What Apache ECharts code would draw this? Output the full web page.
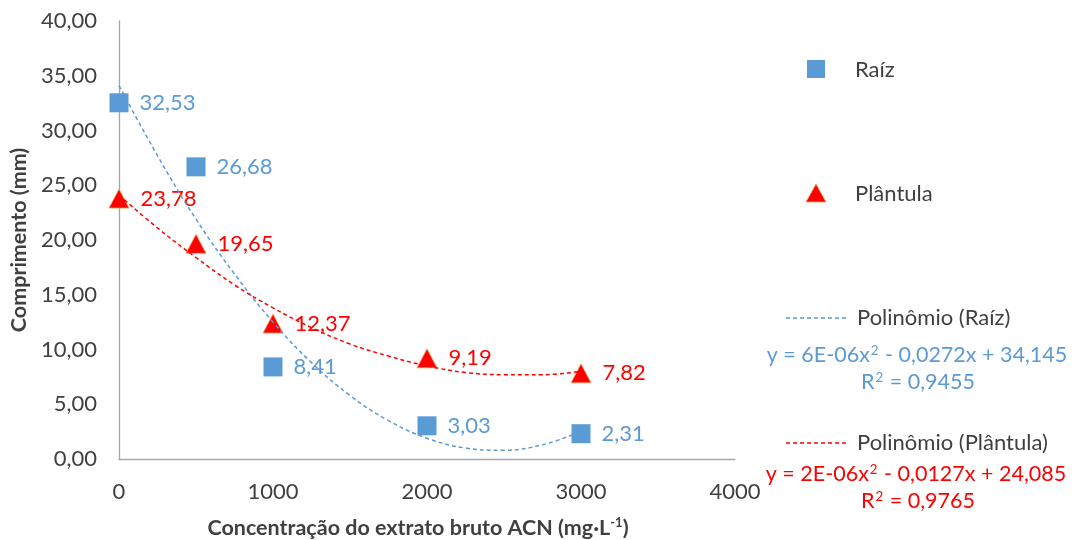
<!DOCTYPE html>
<html><head><meta charset="utf-8">
<script src="https://cdn.jsdelivr.net/npm/echarts@6/dist/echarts.min.js"></script>
<style>html,body{margin:0;padding:0;background:#fff}#c{width:1075px;height:540px}</style>
</head><body><div id="c"></div>
<script>
// Data
const concentrations = [0, 500, 1000, 2000, 3000];
const raizValues = [32.53, 26.68, 8.41, 3.03, 2.31];
const plantulaValues = [23.78, 19.65, 12.37, 9.19, 7.82];
// Trend curves (dashed polynomial trend lines)
const trendX = [0, 250, 500, 750, 1000, 1250, 1500, 1750, 2000, 2250, 2500, 2750, 3000];
const trendRaiz = [34.1, 27.7, 21.9, 16.9, 12.5, 8.8, 5.8, 3.5, 1.9, 1.0, 0.8, 1.3, 2.5];
const trendPlantula = [24.1, 21.1, 18.4, 15.9, 13.8, 12.0, 10.5, 9.4, 8.5, 7.9, 7.7, 7.7, 8.0];
const xTicks = [0, 1000, 2000, 3000, 4000];
const seriesNames = ['Raíz', 'Plântula'];
const trendNames = ['Polinômio (Raíz)', 'Polinômio (Plântula)'];
const equationParts = [['y = 6E-06x', ' - 0,0272x + 34,145'], ['y = 2E-06x', ' - 0,0127x + 24,085']];
const r2Parts = [['R', ' = 0,9455'], ['R', ' = 0,9765']];

const BLUE = '#5B9BD5', RED = '#FF0000', TXT = '#404040';
const FONT = 'Lato, "Open Sans", sans-serif';
const FS = 22;
const fmt = v => v.toFixed(2).replace('.', ',');
const pair = (xs, ys) => xs.map((x, i) => [x, ys[i]]);
const supText = (parts, color, size) => ({
  text: '{a|' + parts[0] + '}{s|2}{a|' + parts[1] + '}',
  rich: {
    a: { fontSize: size, fontFamily: FONT, fill: color, color: color },
    s: { fontSize: size * 0.62, fontFamily: FONT, fill: color, color: color, verticalAlign: 'top', padding: [0, 1, 9, 1] }
  },
  align: 'center', verticalAlign: 'middle'
});

const chart = echarts.init(document.getElementById('c'));
chart.setOption({
  animation: false,
  textStyle: { fontFamily: FONT },
  grid: { left: 119, right: 340, top: 21, bottom: 81, containLabel: false, outerBoundsMode: 'none' },
  xAxis: {
    type: 'value', min: 0, max: 4000, interval: 1000,
    splitLine: { show: false },
    axisLine: { lineStyle: { color: '#a6a6a6', width: 1.3 } },
    axisTick: { show: false },
    axisLabel: { color: TXT, fontSize: FS, margin: 22, fontFamily: FONT,
      formatter: v => xTicks.includes(v) ? String(v) : '' },
    name: '{b|Concentração do extrato bruto ACN (mg·L}{s|-1}{b|)}',
    nameLocation: 'middle', nameGap: 57,
    nameTextStyle: { padding: [0, 18, 0, 0], rich: {
      b: { fontSize: 21.5, fontWeight: 'bold', color: TXT, fontFamily: FONT },
      s: { fontSize: 13, fontWeight: 'bold', color: TXT, fontFamily: FONT, verticalAlign: 'top', padding: [0, 0, 11, 0] }
    } }
  },
  yAxis: {
    type: 'value', min: 0, max: 40, interval: 5,
    splitLine: { show: false },
    axisLine: { show: true, lineStyle: { color: '#a6a6a6', width: 1.3 } },
    axisTick: { show: false },
    axisLabel: { color: TXT, fontSize: FS, margin: 22, fontFamily: FONT, formatter: fmt },
    name: 'Comprimento (mm)', nameLocation: 'middle', nameGap: 87, nameRotate: 90,
    nameTextStyle: { fontSize: 21.5, fontWeight: 'bold', color: TXT, fontFamily: FONT }
  },
  series: [
    {
      name: seriesNames[0], type: 'scatter', data: pair(concentrations, raizValues),
      symbol: 'rect', symbolSize: 19, itemStyle: { color: BLUE, opacity: 1 }, z: 2,
      label: { show: true, position: 'right', distance: 11, color: BLUE, fontSize: FS, fontFamily: FONT,
        formatter: p => fmt(p.value[1]) }
    },
    {
      name: seriesNames[1], type: 'scatter', data: pair(concentrations, plantulaValues),
      symbol: 'triangle', symbolSize: [20, 19], itemStyle: { color: RED, opacity: 1, borderColor: '#F4A460', borderWidth: 0.8 }, z: 2,
      label: { show: true, position: 'right', distance: 11, color: RED, fontSize: FS, fontFamily: FONT,
        formatter: p => fmt(p.value[1]) }
    },
    {
      name: trendNames[0], type: 'line', data: pair(trendX, trendRaiz), smooth: 0.4,
      showSymbol: false, lineStyle: { color: BLUE, width: 1.5, type: [4, 3] }, z: 3, silent: true
    },
    {
      name: trendNames[1], type: 'line', data: pair(trendX, trendPlantula), smooth: 0.4,
      showSymbol: false, lineStyle: { color: RED, width: 1.5, type: [4, 3] }, z: 3, silent: true
    }
  ],
  graphic: [
    { type: 'rect', shape: { x: 807, y: 60, width: 18, height: 18 }, style: { fill: BLUE } },
    { type: 'text', x: 855, y: 70, style: { text: seriesNames[0], fontSize: FS, fontFamily: FONT, fill: TXT, verticalAlign: 'middle' } },
    { type: 'polygon', shape: { points: [[816, 184], [826, 202], [806, 202]] }, style: { fill: RED, stroke: '#F4A460', lineWidth: 0.8 } },
    { type: 'text', x: 855, y: 194, style: { text: seriesNames[1], fontSize: FS, fontFamily: FONT, fill: TXT, verticalAlign: 'middle' } },
    { type: 'line', shape: { x1: 786, y1: 318, x2: 848, y2: 318 }, style: { stroke: BLUE, lineWidth: 1.5, lineDash: [4, 3] } },
    { type: 'text', x: 857, y: 318, style: { text: trendNames[0], fontSize: FS, fontFamily: FONT, fill: TXT, verticalAlign: 'middle' } },
    { type: 'text', x: 917, y: 355, style: supText(equationParts[0], BLUE, 21.5) },
    { type: 'text', x: 918, y: 382, style: supText(r2Parts[0], BLUE, 21.5) },
    { type: 'line', shape: { x1: 786, y1: 443, x2: 848, y2: 443 }, style: { stroke: RED, lineWidth: 1.5, lineDash: [4, 3] } },
    { type: 'text', x: 857, y: 443, style: { text: trendNames[1], fontSize: FS, fontFamily: FONT, fill: TXT, verticalAlign: 'middle' } },
    { type: 'text', x: 916, y: 474, style: supText(equationParts[1], RED, 21.5) },
    { type: 'text', x: 918, y: 501, style: supText(r2Parts[1], RED, 21.5) }
  ]
});
</script></body></html>
